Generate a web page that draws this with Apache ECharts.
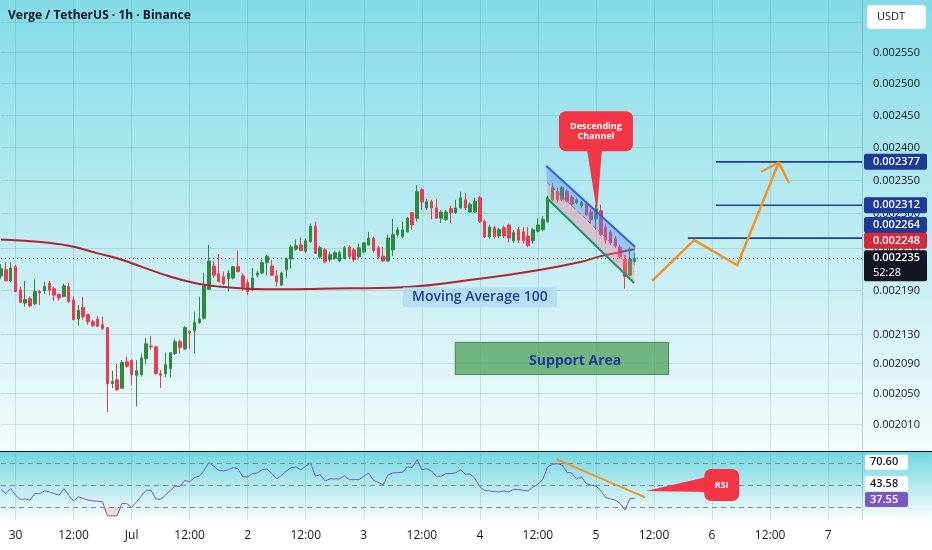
<!DOCTYPE html>
<html>
<head>
<meta charset="utf-8">
<title>Verge / TetherUS · 1h · Binance</title>
<script src="https://cdn.jsdelivr.net/npm/echarts@6.0.0/dist/echarts.min.js"></script>
<style>
html,body{margin:0;padding:0;background:#fff;}
#chart{width:932px;height:550px;background:linear-gradient(to bottom,#83dbe7 0px,#bfecf2 240px,#f4fbfc 451px,#131722 451px,#131722 452px,#72d6e0 452px,#ffffff 522px,#ffffff 550px);}
</style>
</head>
<body>
<div id="chart"></div>
<script>
// ---------- DATA (prices in micro-USDT, i.e. 1e-6 USDT) ----------
const opens = [2210,2219,2203,2223,2190,2172,2178,2171,2188,2189,
2200,2192,2184,2181,2195,2176,2150,2166,2156,2146,
2150,2142,2138,2063,2068,2057,2092,2094,2074,2075,
2096,2113,2112,2076,2076,2083,2103,2119,2109,2133,
2134,2145,2151,2191,2224,2213,2209,2206,2207,2223,
2210,2201,2190,2211,2214,2229,2224,2210,2197,2219,
2234,2248,2254,2245,2259,2281,2237,2247,2233,2235,
2231,2235,2251,2247,2237,2244,2254,2264,2250,2238,
2231,2247,2269,2266,2273,2301,2293,2335,2308,2317,
2308,2293,2291,2307,2301,2308,2320,2302,2302,2323,
2288,2266,2279,2267,2279,2283,2260,2276,2273,2267,
2260,2274,2276,2288,2320,2332,2320,2333,2324,2316,
2311,2314,2302,2292,2304,2280,2273,2263,2251,2234,
2211,2230];
const closes = [2220,2203,2221,2188,2173,2177,2168,2188,2186,2195,
2190,2183,2179,2196,2174,2149,2162,2153,2146,2141,
2140,2137,2063,2066,2055,2091,2086,2075,2080,2097,
2116,2112,2076,2074,2088,2104,2119,2111,2138,2131,
2145,2150,2196,2231,2211,2202,2199,2214,2223,2216,
2194,2188,2207,2214,2229,2238,2211,2202,2214,2234,
2251,2253,2246,2260,2281,2242,2250,2230,2240,2243,
2243,2250,2237,2233,2250,2257,2264,2246,2237,2231,
2264,2269,2276,2276,2293,2283,2332,2317,2317,2308,
2293,2302,2302,2301,2308,2323,2308,2313,2318,2288,
2266,2280,2266,2276,2267,2264,2272,2261,2260,2253,
2276,2283,2291,2323,2338,2320,2338,2318,2314,2320,
2316,2298,2291,2307,2269,2261,2257,2253,2237,2209,
2234,2235];
const lows = [2206,2202,2201,2187,2172,2167,2166,2169,2169,2185,
2183,2175,2175,2180,2172,2148,2141,2149,2142,2139,
2139,2135,2026,2057,2053,2056,2084,2061,2033,2072,
2089,2108,2075,2057,2071,2071,2101,2103,2108,2109,
2103,2143,2149,2190,2207,2201,2197,2188,2205,2215,
2189,2183,2189,2208,2213,2211,2210,2195,2196,2207,
2220,2246,2245,2243,2257,2241,2234,2228,2230,2233,
2230,2234,2234,2230,2235,2243,2253,2243,2234,2230,
2230,2238,2266,2264,2272,2276,2288,2305,2305,2291,
2292,2286,2289,2286,2299,2307,2305,2301,2301,2286,
2264,2263,2263,2264,2264,2258,2257,2257,2256,2251,
2256,2272,2274,2286,2318,2316,2318,2316,2311,2313,
2308,2296,2285,2276,2267,2256,2254,2250,2234,2192,
2209,2228];
const highs = [2227,2229,2229,2226,2195,2203,2181,2205,2190,2202,
2203,2195,2185,2199,2200,2181,2169,2181,2157,2149,
2154,2153,2139,2080,2089,2094,2099,2095,2094,2103,
2124,2127,2113,2081,2104,2105,2122,2122,2140,2134,
2160,2181,2214,2254,2231,2241,2216,2218,2224,2246,
2214,2205,2221,2217,2233,2240,2233,2218,2216,2236,
2254,2262,2265,2264,2285,2288,2253,2250,2244,2246,
2246,2253,2254,2250,2256,2258,2273,2266,2253,2251,
2269,2292,2280,2288,2295,2302,2342,2338,2321,2320,
2321,2305,2305,2311,2320,2332,2330,2316,2323,2326,
2291,2283,2282,2279,2282,2285,2276,2280,2280,2280,
2279,2293,2296,2326,2345,2338,2341,2336,2327,2323,
2318,2317,2307,2313,2313,2285,2276,2267,2254,2240,
2251,2243];
// Moving Average 100, read at candle indexes [index, value]
const maPoints = [[0,2262],[7,2259],[14,2253],[20,2242],[24,2235],[29,2223],[34,2211],[40,2200],[45,2195],[51,2192],[58,2191],[66,2192],[83,2194],[99,2206],[111,2218],[120,2230],[124,2238],[131,2248]];
const rsiValues = [45.8,42.1,46.7,40.6,36.7,37.3,36.1,42.1,42.1,44.5,
43.6,42.1,40.6,46.7,40.6,35.4,39.1,37.6,36.1,35.4,
35.1,34.5,21.8,21.8,21.8,33.0,33.0,29.4,34.5,39.7,
45.1,45.1,37.3,36.7,40.6,45.1,48.8,48.8,54.2,52.7,
56.7,57.9,63.3,70.6,67.0,63.3,62.7,63.9,65.8,64.8,
57.3,57.3,60.3,60.9,63.9,64.5,60.3,55.8,58.5,62.7,
65.8,66.4,63.9,67.0,70.0,57.9,59.4,53.6,55.4,55.4,
55.4,58.5,54.8,54.8,54.8,57.9,60.9,54.2,52.4,50.0,
59.1,60.9,61.2,61.5,66.4,65.8,73.0,63.9,64.8,62.7,
57.9,57.9,60.3,60.3,60.9,63.9,59.7,60.0,55.8,48.2,
44.8,44.5,43.9,43.6,44.5,43.6,46.1,45.8,45.1,44.5,
48.2,50.6,54.8,66.4,68.8,69.4,68.2,61.5,60.9,55.4,
57.3,51.2,49.7,49.1,44.5,38.5,37.3,36.1,33.0,27.0,
37.3,37.55];
const priceTicks = [2600,2550,2500,2450,2400,2350,2300,2250,2190,2130,2090,2050,2010];
const timeTickLabels = ['30','12:00','Jul','12:00','2','12:00','3','12:00','4','12:00','5','12:00','6','12:00','7'];
const firstTickIndex = 3;      // 30 Jun 00:00 is the 4th hourly slot
const hoursPerTick = 12;
const categoryCount = 179;     // hourly slots from 29 Jun 21:00
const lastPrice = 2235;
const countdown = '52:28';
const maLast = 2248;
const targetLevels = [2377, 2312, 2264];
const targetStarts = [147.8, 147.8, 142.0];
const rsiLevels = [70, 50, 30];
const rsiTagValues = [70.60, 43.58, 37.55];

// ---------- drawn annotations (data coordinates) ----------
const channelTop = [[112.7,2371],[131.1,2251]];
const channelBottom = [[113.1,2321],[130.9,2200]];
const forecastPath = [[134.6,2203],[143.3,2261],[152.2,2225],[160.8,2376]];
const forecastArrow = [[157.1,2362],[160.8,2376],[162.9,2345]];
const supportArea = [[93.9,2118],[138.0,2075]];
const supportLabelAt = [118.7,2093];
const maLabelAt = [99.0,2180];
const channelCalloutBox = [123.0,2424];
const channelCalloutTip = [123.2,2302];
const rsiTrend = [[114.9,73.3],[133.2,38.7]];
const rsiCalloutBox = [149.0,49.9];
const rsiCalloutTip = [133.3,44.4];

// ---------- build ----------
const FONT = '"Open Sans", "DejaVu Sans", sans-serif';
const categories = [];
for (let h = 0; h < categoryCount; h++) {
  const d = new Date(Date.UTC(2024, 5, 29, 21 + h));
  categories.push((d.getUTCMonth()+1) + '-' + d.getUTCDate() + ' ' + String(d.getUTCHours()).padStart(2,'0') + ':00');
}
const candleData = opens.map((o, i) => [o, closes[i], lows[i], highs[i]]);
const fmt = v => (v / 1e6).toFixed(6);
const isTick = idx => idx >= firstTickIndex && (idx - firstTickIndex) % hoursPerTick === 0;

function fc(api, p) {
  const x0 = Math.floor(p[0]), t = p[0] - x0;
  const a = api.coord([x0, p[1]]), b = api.coord([x0 + 1, p[1]]);
  return [a[0] + (b[0] - a[0]) * t, a[1]];
}
const GRID_LINE = 'rgba(30,80,100,0.14)';
const ORANGE = '#f7931e';

const tagDefs = [
  { value: targetLevels[0], bg: '#1d3b96', dy: 0 },
  { value: targetLevels[1], bg: '#1d3b96', dy: 0 },
  { value: targetLevels[2], bg: '#1d3b96', dy: -13 },
  { value: maLast, bg: '#d52a3b', dy: -8.5 },
  { value: lastPrice, bg: '#131722', dy: 0, sub: countdown }
];
const rsiTagDefs = [
  { value: rsiTagValues[0], bg: '#ffffff', fg: '#131722', dy: 0 },
  { value: rsiTagValues[1], bg: '#ffffff', fg: '#131722', dy: -8.4 },
  { value: rsiTagValues[2], bg: '#7e57c2', fg: '#ffffff', dy: 1 }
];

const option = {
  animation: false,
  grid: [
    { left: 1, right: 70, top: 0, height: 451 },
    { left: 1, right: 70, top: 452, height: 68 }
  ],
  xAxis: [
    { type: 'category', gridIndex: 0, data: categories, boundaryGap: false,
      axisLine: { show: false }, axisTick: { show: false }, axisLabel: { show: false },
      splitLine: { show: true, interval: isTick, lineStyle: { color: GRID_LINE, width: 1 } } },
    { type: 'category', gridIndex: 1, data: categories, boundaryGap: false,
      axisLine: { show: false }, axisTick: { show: false },
      axisLabel: { show: true, interval: isTick, margin: 10, color: '#131722', fontSize: 12, fontFamily: FONT,
        formatter: (v, idx) => isTick(idx) ? (timeTickLabels[(idx - firstTickIndex) / hoursPerTick] || '') : '' },
      splitLine: { show: true, interval: isTick, lineStyle: { color: GRID_LINE, width: 1 } } }
  ],
  yAxis: [
    { type: 'log', logBase: 10, gridIndex: 0, min: 1976, max: 2636, show: false },
    { type: 'value', gridIndex: 1, min: 18, max: 80, show: false }
  ],
  graphic: [
    { type: 'text', x: 8, y: 16, z: 50, style: { text: 'Verge / TetherUS · 1h · Binance', fill: '#131722', font: '700 12px ' + FONT, verticalAlign: 'middle' } },
    { type: 'rect', z: 50, shape: { x: 867, y: 5, width: 59, height: 24, r: 4 }, style: { fill: '#ffffff' } },
    { type: 'text', x: 877, y: 17, z: 51, style: { text: 'USDT', fill: '#131722', font: '11px ' + FONT, verticalAlign: 'middle' } },
    { type: 'line', z: 40, shape: { x1: 862.5, y1: 0, x2: 862.5, y2: 520 }, style: { stroke: 'rgba(40,70,80,0.22)', lineWidth: 1 } }
  ],
  series: [
    { // price grid lines + tick labels
      type: 'custom', xAxisIndex: 0, yAxisIndex: 0, z: 1, silent: true,
      data: priceTicks.map(v => [0, v]),
      renderItem: (params, api) => {
        const cs = params.coordSys;
        const y = Math.round(api.coord([0, api.value(1)])[1]) + 0.5;
        return { type: 'group', children: [
          { type: 'line', shape: { x1: cs.x, y1: y, x2: cs.x + cs.width, y2: y }, style: { stroke: GRID_LINE, lineWidth: 1 } },
          { type: 'text', x: cs.x + cs.width + 11, y: y, style: { text: fmt(api.value(1)), fill: '#131722', font: '11px ' + FONT, verticalAlign: 'middle' } }
        ] };
      }
    },
    {
      type: 'candlestick', xAxisIndex: 0, yAxisIndex: 0, z: 3, barWidth: 3,
      data: candleData,
      itemStyle: { color: '#2e8b3e', color0: '#ee3a4e', borderColor: '#2e8b3e', borderColor0: '#ee3a4e', borderWidth: 1 },
      markLine: { silent: true, symbol: ['none', 'none'], label: { show: false },
        lineStyle: { color: '#2a2e39', type: [1, 3], width: 1 }, data: [{ yAxis: lastPrice }] }
    },
    {
      type: 'line', xAxisIndex: 0, yAxisIndex: 0, z: 4, data: maPoints, smooth: 0.4, symbol: 'none',
      lineStyle: { color: '#b0232f', width: 2 }, silent: true
    },
    { // support area
      type: 'custom', xAxisIndex: 0, yAxisIndex: 0, z: 5, silent: true, data: [[0, 2100]],
      renderItem: (params, api) => {
        const a = fc(api, supportArea[0]), b = fc(api, supportArea[1]);
        const t = fc(api, supportLabelAt);
        return { type: 'group', children: [
          { type: 'rect', shape: { x: a[0], y: a[1], width: b[0] - a[0], height: b[1] - a[1] }, style: { fill: 'rgba(82,163,95,0.78)', stroke: 'rgba(60,130,72,0.9)', lineWidth: 1 } },
          { type: 'text', x: t[0], y: t[1], style: { text: 'Support Area', fill: '#1f3a93', font: '700 14px ' + FONT, align: 'center', verticalAlign: 'middle' } }
        ] };
      }
    },
    { // MA label
      type: 'custom', xAxisIndex: 0, yAxisIndex: 0, z: 5, silent: true, data: [[0, 2180]],
      renderItem: (params, api) => {
        const c = fc(api, maLabelAt);
        return { type: 'group', children: [
          { type: 'rect', shape: { x: c[0] - 77, y: c[1] - 10, width: 154, height: 20 }, style: { fill: 'rgba(175,218,245,0.75)' } },
          { type: 'text', x: c[0], y: c[1], style: { text: 'Moving Average 100', fill: '#1e3d8f', font: '600 14px ' + FONT, align: 'center', verticalAlign: 'middle' } }
        ] };
      }
    },
    { // descending channel
      type: 'custom', xAxisIndex: 0, yAxisIndex: 0, z: 6, silent: true, data: [[0, 2300]],
      renderItem: (params, api) => {
        const t0 = fc(api, channelTop[0]), t1 = fc(api, channelTop[1]);
        const b0 = fc(api, channelBottom[0]), b1 = fc(api, channelBottom[1]);
        const m0 = [(t0[0] + b0[0]) / 2, (t0[1] + b0[1]) / 2], m1 = [(t1[0] + b1[0]) / 2, (t1[1] + b1[1]) / 2];
        return { type: 'group', children: [
          { type: 'polygon', shape: { points: [t0, t1, m1, m0] }, style: { fill: 'rgba(80,140,255,0.38)' } },
          { type: 'polygon', shape: { points: [m0, m1, b1, b0] }, style: { fill: 'rgba(255,120,150,0.36)' } },
          { type: 'line', shape: { x1: m0[0], y1: m0[1], x2: m1[0], y2: m1[1] }, style: { stroke: '#e5485c', lineWidth: 1, lineDash: [4, 3] } },
          { type: 'line', shape: { x1: t0[0], y1: t0[1], x2: t1[0], y2: t1[1] }, style: { stroke: '#2f5fe3', lineWidth: 2 } },
          { type: 'line', shape: { x1: b0[0], y1: b0[1], x2: b1[0], y2: b1[1] }, style: { stroke: '#17936b', lineWidth: 2 } }
        ] };
      }
    },
    { // target levels
      type: 'custom', xAxisIndex: 0, yAxisIndex: 0, z: 6, silent: true,
      data: targetLevels.map((v, i) => [i, v]),
      renderItem: (params, api) => {
        const cs = params.coordSys;
        const p = fc(api, [targetStarts[params.dataIndex], api.value(1)]);
        return { type: 'line', shape: { x1: p[0], y1: p[1], x2: cs.x + cs.width, y2: p[1] }, style: { stroke: '#1c3f9e', lineWidth: 1.6 } };
      }
    },
    { // forecast path
      type: 'custom', xAxisIndex: 0, yAxisIndex: 0, z: 7, silent: true, data: [[0, 2300]],
      renderItem: (params, api) => ({ type: 'group', children: [
        { type: 'polyline', shape: { points: forecastPath.map(p => fc(api, p)) }, style: { stroke: ORANGE, lineWidth: 2.5, fill: null, lineJoin: 'round' } },
        { type: 'polyline', shape: { points: forecastArrow.map(p => fc(api, p)) }, style: { stroke: ORANGE, lineWidth: 2.5, fill: null, lineJoin: 'round' } }
      ] })
    },
    { // descending channel callout
      type: 'custom', xAxisIndex: 0, yAxisIndex: 0, z: 8, silent: true, data: [[0, 2400]],
      renderItem: (params, api) => {
        const c = fc(api, channelCalloutBox), tip = fc(api, channelCalloutTip);
        return { type: 'group', children: [
          { type: 'polygon', shape: { points: [[c[0] - 9, c[1] + 18], [c[0] + 6, c[1] + 18], tip] }, style: { fill: '#f23645' } },
          { type: 'rect', shape: { x: c[0] - 37, y: c[1] - 20, width: 74, height: 40, r: 7 }, style: { fill: '#f23645' } },
          { type: 'text', x: c[0], y: c[1], style: { text: 'Descending\nChannel', fill: '#ffffff', font: '700 9px ' + FONT, align: 'center', verticalAlign: 'middle', lineHeight: 10 } }
        ] };
      }
    },
    { // price tags on the right scale
      type: 'custom', xAxisIndex: 0, yAxisIndex: 0, z: 20, silent: true,
      data: tagDefs.map((t, i) => [i, t.value]),
      renderItem: (params, api) => {
        const t = tagDefs[params.dataIndex];
        const cs = params.coordSys;
        const y = api.coord([0, api.value(1)])[1] + t.dy;
        const x = cs.x + cs.width + 2;
        const children = [
          { type: 'rect', shape: { x: x, y: y - 8, width: 63, height: t.sub ? 31 : 16, r: 2 }, style: { fill: t.bg } },
          { type: 'text', x: x + 9, y: y, style: { text: fmt(api.value(1)), fill: '#ffffff', font: '600 11px ' + FONT, verticalAlign: 'middle' } }
        ];
        if (t.sub) children.push({ type: 'text', x: x + 9, y: y + 15, style: { text: t.sub, fill: '#ffffff', font: '11px ' + FONT, verticalAlign: 'middle' } });
        return { type: 'group', children };
      }
    },
    { // RSI oversold fill
      type: 'line', xAxisIndex: 1, yAxisIndex: 1, z: 2, silent: true, symbol: 'none',
      data: rsiValues.map(v => Math.min(v, 30)),
      lineStyle: { width: 0, opacity: 0 },
      areaStyle: { origin: 30, color: 'rgba(248,175,160,0.6)' }
    },
    {
      type: 'line', xAxisIndex: 1, yAxisIndex: 1, z: 3, silent: true, symbol: 'none',
      data: rsiValues,
      lineStyle: { color: '#7359cc', width: 1 },
      markLine: { silent: true, symbol: ['none', 'none'], label: { show: false },
        lineStyle: { color: '#7d8c96', type: [5, 4], width: 1 },
        data: rsiLevels.map(v => ({ yAxis: v })) }
    },
    { // RSI trend + callout
      type: 'custom', xAxisIndex: 1, yAxisIndex: 1, z: 6, silent: true, data: [[0, 50]],
      renderItem: (params, api) => {
        const a = fc(api, rsiTrend[0]), b = fc(api, rsiTrend[1]);
        const c = fc(api, rsiCalloutBox), tip = fc(api, rsiCalloutTip);
        return { type: 'group', children: [
          { type: 'line', shape: { x1: a[0], y1: a[1], x2: b[0], y2: b[1] }, style: { stroke: ORANGE, lineWidth: 2 } },
          { type: 'polygon', shape: { points: [[c[0] - 15, c[1] - 8], [c[0] - 15, c[1] + 7], tip] }, style: { fill: '#f23645' } },
          { type: 'rect', shape: { x: c[0] - 17.5, y: c[1] - 16, width: 35, height: 32, r: 7 }, style: { fill: '#f23645' } },
          { type: 'text', x: c[0], y: c[1], style: { text: 'RSI', fill: '#ffffff', font: '700 9px ' + FONT, align: 'center', verticalAlign: 'middle' } }
        ] };
      }
    },
    { // RSI scale tags
      type: 'custom', xAxisIndex: 1, yAxisIndex: 1, z: 20, silent: true,
      data: rsiTagDefs.map((t, i) => [i, t.value]),
      renderItem: (params, api) => {
        const t = rsiTagDefs[params.dataIndex];
        const cs = params.coordSys;
        const y = api.coord([0, api.value(1)])[1] + t.dy;
        const x = cs.x + cs.width + 3;
        return { type: 'group', children: [
          { type: 'rect', shape: { x: x, y: y - 7.5, width: 43, height: 15, r: 2 }, style: { fill: t.bg } },
          { type: 'text', x: x + 5, y: y, style: { text: api.value(1).toFixed(2), fill: t.fg, font: '600 11px ' + FONT, verticalAlign: 'middle' } }
        ] };
      }
    }
  ]
};
const chart = echarts.init(document.getElementById('chart'));
chart.setOption(option);
</script>
</body>
</html>
